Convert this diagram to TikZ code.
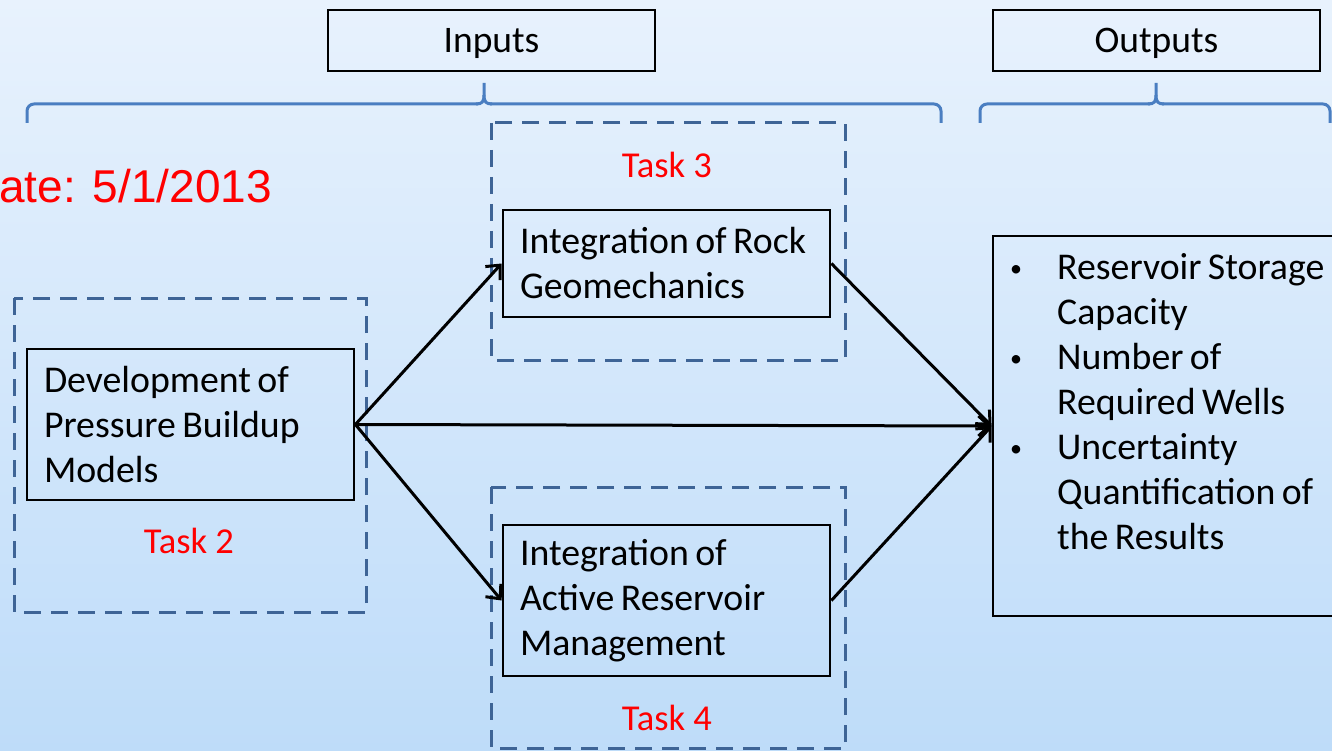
\documentclass[tikz,border=0pt]{standalone}
\usepackage{fontspec}
\setmainfont{Carlito}
\newfontfamily\datefont{Liberation Sans}
\usetikzlibrary{arrows.meta}
\definecolor{bgtop}{RGB}{232,242,253}
\definecolor{bgbot}{RGB}{190,220,249}
\definecolor{bracecol}{RGB}{74,126,193}
\definecolor{dashcol}{RGB}{62,100,150}
\definecolor{taskred}{RGB}{255,0,0}
\newcommand{\bodyfont}{\fontsize{37.8}{45}\selectfont\spaceskip=0.17em\relax}
\newcommand{\itembullet}{\makebox[48pt][l]{\hspace*{1pt}\raisebox{3pt}{\fontsize{24}{24}\selectfont •}}}

\begin{document}
\begin{tikzpicture}[x=1pt,y=-1pt,
  procbox/.style={draw=black, line width=2.8pt, rectangle, inner xsep=17pt, inner ysep=0pt,
    text width=293pt, align=flush left, font=\bodyfont},
  headbox/.style={draw=black, line width=2.8pt, minimum width=327pt, minimum height=61pt,
    font=\fontsize{37.5}{44}\selectfont, text depth=0pt},
  taskframe/.style={draw=dashcol, line width=3pt, dash pattern=on 17pt off 10pt},
  tasklabel/.style={text=taskred, font=\fontsize{36.5}{44}\selectfont, anchor=base, inner sep=0pt},
  brace/.style={draw=bracecol, line width=3pt, rounded corners=7pt},
  bracetip/.style={draw=bracecol, line width=3pt},
  flow/.style={draw=black, line width=3pt, -{Straight Barb[length=11pt,width=20pt]}}
]
% background
\useasboundingbox (0,0) rectangle (1332,751);
\shade[top color=bgtop, bottom color=bgbot] (0,0) rectangle (1332,751);

% headers
\node[headbox] (inputs) at (491.5,40.5) {Inputs};
\node[headbox] (outputs) at (1156.5,40.5) {Outputs};

% braces under the headers
\draw[brace] (27,123) -- (27,104) -- (478,104);
\draw[brace] (490,104) -- (941,104) -- (941,123);
\draw[bracetip] (476,104) .. controls (482,104) and (484,102) .. (484,95) -- (484,83);
\draw[bracetip] (492,104) .. controls (486,104) and (484,102) .. (484,95);

\draw[brace] (980,123) -- (980,104) -- (1150,104);
\draw[brace] (1162,104) -- (1330,104) -- (1330,123);
\draw[bracetip] (1148,104) .. controls (1154,104) and (1156,102) .. (1156,95) -- (1156,83);
\draw[bracetip] (1164,104) .. controls (1158,104) and (1156,102) .. (1156,95);

% date stamp
\node[anchor=base west, inner sep=0pt, text=taskred, font=\datefont\fontsize{46}{52}\selectfont]
  (date) at (-1,203) {ate: 5/1/2013};

% task frames
\draw[taskframe] (14,298) rectangle (366,612);
\draw[taskframe] (491,123) rectangle (845,360);
\draw[taskframe] (491,487) rectangle (845,748);

\node[tasklabel] (task2) at (189,553) {Task 2};
\node[tasklabel] (task3) at (667,178) {Task 3};
\node[tasklabel] (task4) at (667,730) {Task 4};

% process boxes
\node[procbox, minimum height=151pt] (dev) at (190.5,424.5)
  {Development of\\Pressure Buildup\\Models};
\node[procbox, minimum height=107pt] (rock) at (666.5,263.5)
  {Integration of Rock\\Geomechanics};
\node[procbox, minimum height=151pt] (active) at (666.5,600.5)
  {Integration of\\Active Reservoir\\Management};

% output box and its list
\node[draw=black, line width=2.8pt, minimum width=347pt, minimum height=380pt] (outbox) at (1166.5,426) {};
\node[anchor=north west, inner sep=0pt, align=left, font=\bodyfont] (outlist) at (1009,245)
  {\rule{0pt}{34pt}\itembullet Reservoir Storage\\
   \hspace*{48pt}Capacity\\
   \itembullet Number of\\
   \hspace*{48pt}Required Wells\\
   \itembullet Uncertainty\\
   \hspace*{48pt}Quantification of\\
   \hspace*{48pt}the Results};

% connectors
\draw[flow] (dev.east) -- (rock.west);
\draw[flow] (dev.east) -- (active.west);
\draw[flow] (dev.east) -- (outbox.west);
\draw[flow] (rock.east) -- (outbox.west);
\draw[flow] (active.east) -- (outbox.west);
\end{tikzpicture}
\end{document}
